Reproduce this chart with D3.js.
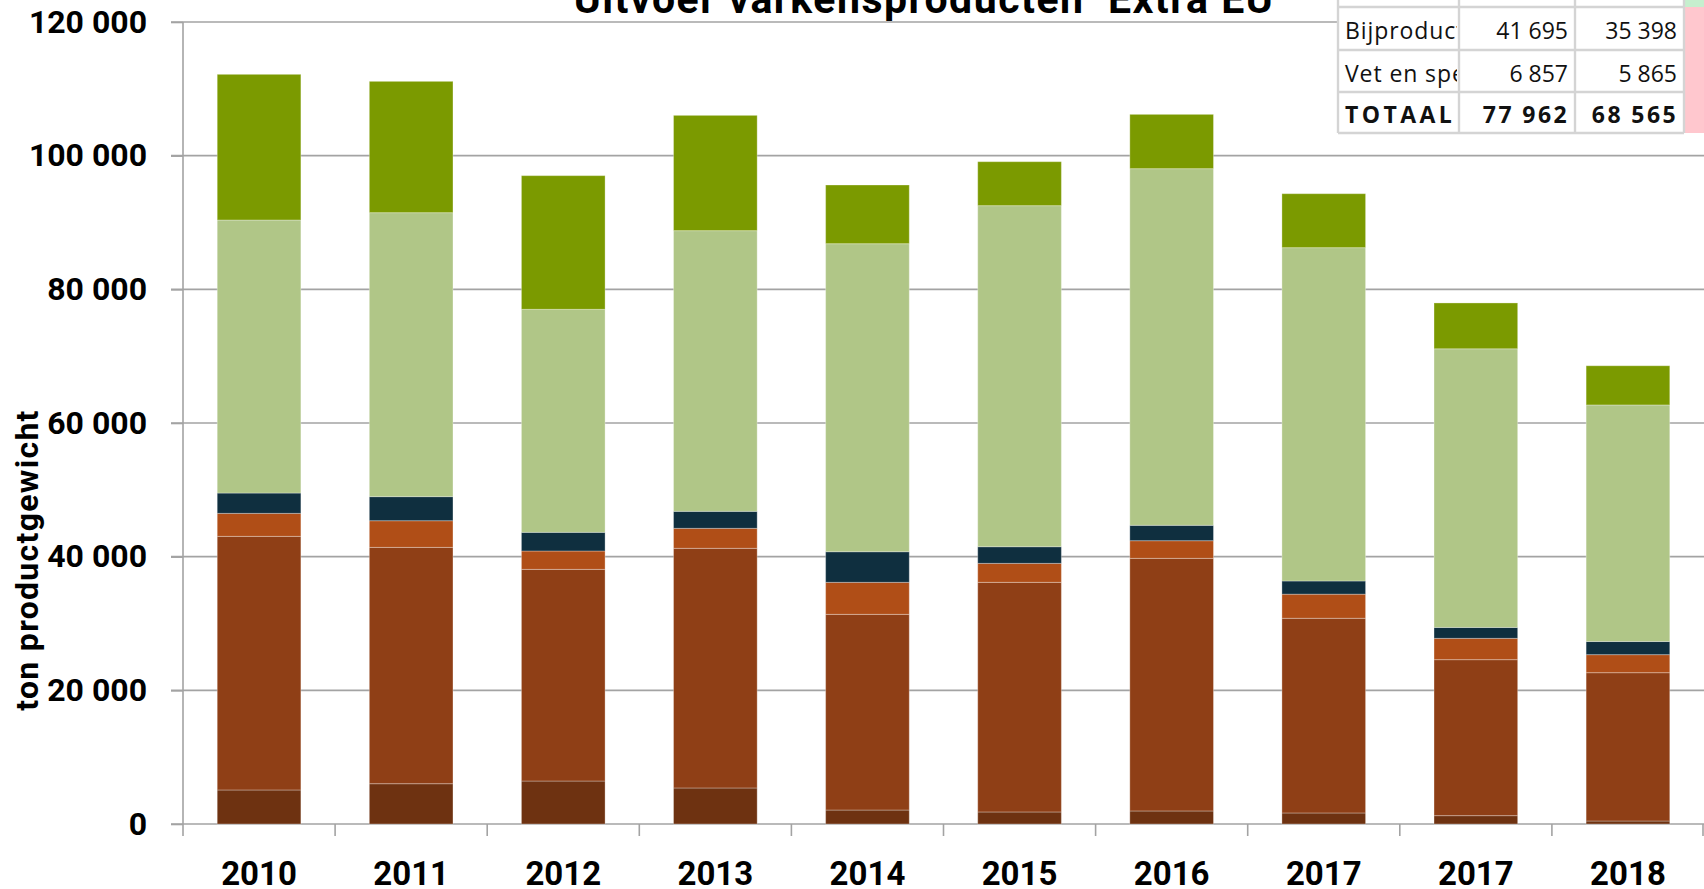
<!DOCTYPE html>
<html>
<head>
<meta charset="utf-8">
<script src="https://cdn.jsdelivr.net/npm/d3@7"></script>
<style>
    body { margin: 0; background: #ffffff; }
    svg { display: block; }
</style>
</head>
<body>
<div id="graph-ctx"><svg></svg></div>
<script>
// years on the x axis (2017 appears twice in the source chart)
let categories = ["2010", "2011", "2012", "2013", "2014", "2015", "2016", "2017", "2017", "2018"]

// stacked series, bottom to top (ton productgewicht)
let seriesKeys = ["reeks1", "reeks2", "reeks3", "reeks4", "Bijproducten", "Vet en spek"]
let reeks1 = [5090, 6030, 6430, 5390, 2090, 1800, 1950, 1650, 1250, 450]
let reeks2 = [37950, 35360, 31670, 35860, 29280, 34360, 37800, 29130, 23340, 22190]
let reeks3 = [3440, 3990, 2750, 2990, 4790, 2840, 2640, 3610, 3190, 2700]
let reeks4 = [3040, 3600, 2790, 2540, 4580, 2490, 2300, 1970, 1630, 1962]
let bijproducten = [40855, 42490, 33370, 42000, 46090, 51030, 53365, 49875, 41695, 35398]
let vetEnSpek = [21795, 19650, 20000, 17250, 8780, 6580, 8125, 8075, 6857, 5865]

let yTicks = [0, 20000, 40000, 60000, 80000, 100000, 120000]
let yLabel = "ton productgewicht"
let title = "Uitvoer varkensproducten  Extra EU"

// the little table in the corner shows the last two bars
let tableColumns = [8, 9]
let tableLabels = ["Bijproducten", "Vet en spek", "TOTAAL"]

let colors = ["#6e3211", "#8f3f16", "#b04e17", "#0f2f3f", "#b0c687", "#7b9a00"]

let locale = d3.formatLocale({ decimal: ",", thousands: " ", grouping: [3], currency: ["", ""] })
let numFormat = locale.format(",d")

document.addEventListener("DOMContentLoaded", () => {
    createGraph()
    createTable()
})

function buildRows() {
    let all = [reeks1, reeks2, reeks3, reeks4, bijproducten, vetEnSpek]
    return categories.map((c, i) => {
        let row = { index: i }
        seriesKeys.forEach((k, j) => { row[k] = all[j][i] })
        return row
    })
}

function createGraph() {
    let width = 1704
    let height = 889
    let svg = d3.select("#graph-ctx svg")
    svg.attr("width", width).attr("height", height)

    let X = d3.scaleBand()
              .domain(d3.range(categories.length))
              .range([183, width])
              .paddingInner(0.45)
              .paddingOuter(0.225)

    let Y = d3.scaleLinear()
              .domain([0, 120000])
              .range([824, 22])

    // gridlines
    svg.append("g")
       .selectAll("line")
       .data(yTicks)
       .enter()
       .append("line")
       .attr("x1", 171)
       .attr("x2", width)
       .attr("y1", d => Y(d))
       .attr("y2", d => Y(d))
       .attr("stroke", "#a3a3a3")
       .attr("stroke-width", 1.6)

    // y axis line, running down to the category ticks
    svg.append("line")
       .attr("x1", 183).attr("x2", 183)
       .attr("y1", Y(120000)).attr("y2", 836)
       .attr("stroke", "#a3a3a3")
       .attr("stroke-width", 1.6)

    // category boundary ticks
    let gap = (X.step() - X.bandwidth()) / 2
    svg.append("g")
       .selectAll("line")
       .data(d3.range(1, categories.length + 1))
       .enter()
       .append("line")
       .attr("x1", d => d < categories.length ? X(d) - gap : width - 1)
       .attr("x2", d => d < categories.length ? X(d) - gap : width - 1)
       .attr("y1", Y(0))
       .attr("y2", 836)
       .attr("stroke", "#a3a3a3")
       .attr("stroke-width", 1.6)

    // stacked bars
    let stacked = d3.stack().keys(seriesKeys)(buildRows())
    svg.append("g")
       .selectAll("g")
       .data(stacked)
       .enter()
       .append("g")
       .attr("fill", (d, i) => colors[i])
       .selectAll("rect")
       .data(d => d)
       .enter()
       .append("rect")
       .attr("x", d => X(d.data.index))
       .attr("y", d => Y(d[1]))
       .attr("width", X.bandwidth())
       .attr("height", d => Y(d[0]) - Y(d[1]))
       .attr("stroke", "rgba(255,255,255,0.3)")
       .attr("stroke-width", 1)

    // Y-Axis labels
    let yaxis = d3.axisLeft(Y)
                  .tickValues(yTicks)
                  .tickFormat(numFormat)
                  .tickSize(12)
                  .tickPadding(24)
    let gy = svg.append("g")
                .attr("transform", "translate(183,0)")
                .call(yaxis)
    gy.select(".domain").remove()
    gy.selectAll("line").attr("stroke", "#a3a3a3").attr("stroke-width", 1.6)
    gy.selectAll("text")
      .attr("font-family", "Roboto")
      .attr("font-weight", "bold")
      .attr("font-size", 32)
      .attr("fill", "#000")

    svg.append("text")
       .attr("transform", "rotate(-90)")
       .attr("x", -560)
       .attr("y", 38)
       .attr("text-anchor", "middle")
       .attr("font-family", "Roboto")
       .attr("font-weight", "bold")
       .attr("font-size", 32)
       .attr("letter-spacing", 1.3)
       .text(yLabel)

    // X-Axis labels
    let xaxis = d3.axisBottom(X)
                  .tickFormat(i => categories[i])
                  .tickSize(0)
                  .tickPadding(38)
    let gx = svg.append("g")
                .attr("transform", "translate(0," + Y(0) + ")")
                .call(xaxis)
    gx.select(".domain").remove()
    gx.selectAll("text")
      .attr("font-family", "Roboto")
      .attr("font-weight", "bold")
      .attr("font-size", 33)
      .attr("fill", "#000")

    // title, cut off at the top edge
    svg.append("text")
       .attr("x", 924)
       .attr("y", 13)
       .attr("text-anchor", "middle")
       .attr("font-family", "Roboto")
       .attr("font-weight", "bold")
       .attr("font-size", 41)
       .attr("letter-spacing", 1.5)
       .style("white-space", "pre")
       .text(title)
}

function createTable() {
    let svg = d3.select("#graph-ctx svg")
    let colX = [1338, 1459, 1575, 1684]
    let rowY = [-36, 7, 50, 92, 133]

    let totals = tableColumns.map(i => d3.sum([reeks1, reeks2, reeks3, reeks4, bijproducten, vetEnSpek], s => s[i]))
    let body = [
        [tableLabels[0]].concat(tableColumns.map(i => bijproducten[i])),
        [tableLabels[1]].concat(tableColumns.map(i => vetEnSpek[i])),
        [tableLabels[2]].concat(totals)
    ]

    let g = svg.append("g")
    g.append("rect")
     .attr("x", colX[0]).attr("y", rowY[0])
     .attr("width", colX[3] - colX[0]).attr("height", rowY[4] - rowY[0])
     .attr("fill", "#fff")
    g.append("rect")
     .attr("x", colX[3]).attr("y", rowY[0])
     .attr("width", 40).attr("height", rowY[1] - rowY[0])
     .attr("fill", "#c6efce")
    g.append("rect")
     .attr("x", colX[3]).attr("y", rowY[1])
     .attr("width", 40).attr("height", rowY[4] - rowY[1])
     .attr("fill", "#ffc7ce")

    // cell borders
    g.selectAll("line.h")
     .data(rowY)
     .enter()
     .append("line")
     .attr("x1", colX[0]).attr("x2", colX[3])
     .attr("y1", d => d).attr("y2", d => d)
     .attr("stroke", "#d4d4d4").attr("stroke-width", 2.4)
    g.selectAll("line.v")
     .data(colX)
     .enter()
     .append("line")
     .attr("x1", d => d).attr("x2", d => d)
     .attr("y1", rowY[0]).attr("y2", rowY[4])
     .attr("stroke", "#d4d4d4").attr("stroke-width", 2.4)

    svg.append("clipPath")
       .attr("id", "label-clip")
       .append("rect")
       .attr("x", colX[0]).attr("y", rowY[0])
       .attr("width", colX[1] - colX[0] - 2).attr("height", rowY[4] - rowY[0])

    let baselines = [39, 82, 123]
    body.forEach((row, r) => {
        let bold = r === 2
        g.append("text")
         .attr("x", 1345)
         .attr("y", baselines[r])
         .attr("clip-path", "url(#label-clip)")
         .attr("font-family", "Open Sans")
         .attr("font-size", 23)
         .attr("font-weight", bold ? "bold" : "normal")
         .attr("letter-spacing", bold ? 3.4 : 0.9)
         .attr("fill", "#111")
         .text(row[0])
        row.slice(1).forEach((v, c) => {
            g.append("text")
             .attr("x", colX[c + 2] - (bold ? 6 : 7))
             .attr("y", baselines[r])
             .attr("text-anchor", "end")
             .attr("font-family", "Open Sans")
             .attr("font-size", 23)
             .attr("font-weight", bold ? "bold" : "normal")
             .attr("letter-spacing", bold ? 2.4 : 0)
             .attr("fill", "#111")
             .text(numFormat(v))
        })
    })
}
</script>
</body>
</html>
